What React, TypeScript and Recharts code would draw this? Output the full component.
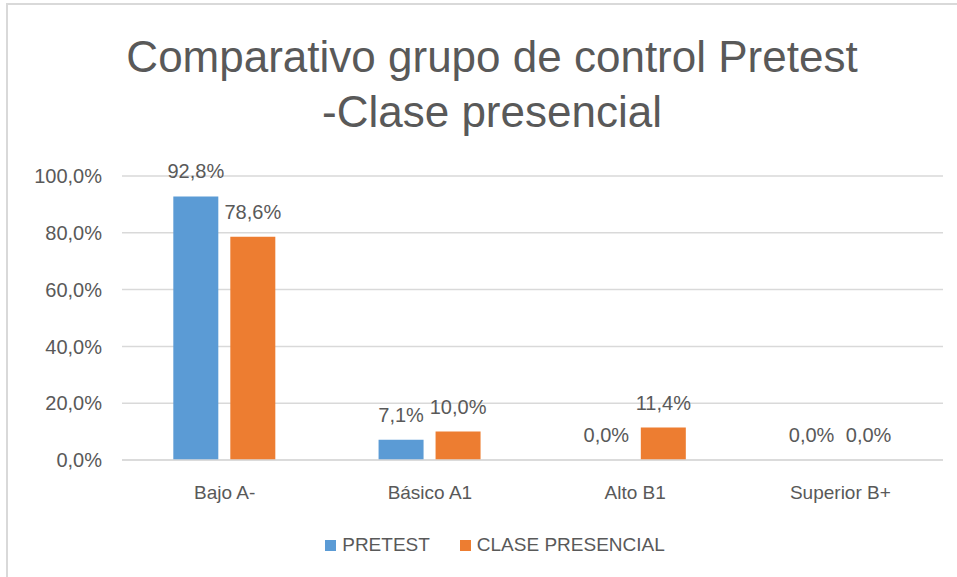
import React from 'react';
import { BarChart, Bar, XAxis, YAxis, CartesianGrid, LabelList } from 'recharts';

const categories = ['Bajo A-', 'Básico A1', 'Alto B1', 'Superior B+'];
const pretest = [92.8, 7.1, 0, 0];
const presencial = [78.6, 10.0, 11.4, 0];
const yTicks = [0, 20, 40, 60, 80, 100];

const data = categories.map((name, i) => ({
  name,
  pretest: pretest[i],
  presencial: presencial[i],
}));

const BLUE = '#5B9BD5';
const ORANGE = '#ED7D31';
const TEXT = '#595959';
const GRID = '#D9D9D9';
const FONT = '"Liberation Sans", Arial, sans-serif';

const pct = (v: any) => `${Number(v).toFixed(1).replace('.', ',')}%`;

const App: React.FC = () => {
  return (
    <div style={{ position: 'absolute', left: 0, top: 0, width: 957, height: 577, background: '#fff', overflow: 'hidden', fontFamily: FONT }}>
      {/* frame */}
      <div style={{ position: 'absolute', left: 6, top: 3, width: 1000, height: 620, borderLeft: `2px solid ${GRID}`, borderTop: `2px solid ${GRID}` }} />

      <div style={{ position: 'absolute', left: 92, top: 29, width: 800, textAlign: 'center', color: TEXT, fontSize: 44, lineHeight: '55px' }}>
        Comparativo grupo de control Pretest
        <br />
        -Clase presencial
      </div>

      <div style={{ position: 'absolute', left: 0, top: 0 }}>
        <BarChart
          width={957}
          height={577}
          data={data}
          margin={{ top: 176, right: 14, bottom: 57, left: 0 }}
          barCategoryGap="25%"
          barGap={12}
        >
          <CartesianGrid vertical={false} stroke={GRID} strokeWidth={1.5} />
          <XAxis
            dataKey="name"
            axisLine={{ stroke: GRID, strokeWidth: 1.5 }}
            tickLine={false}
            tickSize={0}
            tickMargin={26}
            tick={{ fill: TEXT, fontSize: 19, fontFamily: FONT }}
            height={60}
          />
          <YAxis
            domain={[0, 100]}
            ticks={yTicks}
            tickFormatter={pct}
            axisLine={false}
            tickLine={false}
            tickSize={0}
            tickMargin={20}
            width={122}
            tick={{ fill: TEXT, fontSize: 20, fontFamily: FONT }}
          />
          <Bar dataKey="pretest" fill={BLUE} minPointSize={0.01} isAnimationActive={false}>
            <LabelList dataKey="pretest" position="top" offset={18} formatter={pct} fill={TEXT} fontSize={20} fontFamily={FONT} />
          </Bar>
          <Bar dataKey="presencial" fill={ORANGE} minPointSize={0.01} isAnimationActive={false}>
            <LabelList dataKey="presencial" position="top" offset={18} formatter={pct} fill={TEXT} fontSize={20} fontFamily={FONT} />
          </Bar>
        </BarChart>
      </div>

      <div style={{ position: 'absolute', left: 0, top: 534, width: 990, display: 'flex', justifyContent: 'center', alignItems: 'center', color: TEXT, fontSize: 19 }}>
        <span style={{ width: 11, height: 11, background: BLUE, display: 'inline-block', marginRight: 6 }} />
        <span style={{ marginRight: 30 }}>PRETEST</span>
        <span style={{ width: 11, height: 11, background: ORANGE, display: 'inline-block', marginRight: 6 }} />
        <span>CLASE PRESENCIAL</span>
      </div>
    </div>
  );
};

export default App;
